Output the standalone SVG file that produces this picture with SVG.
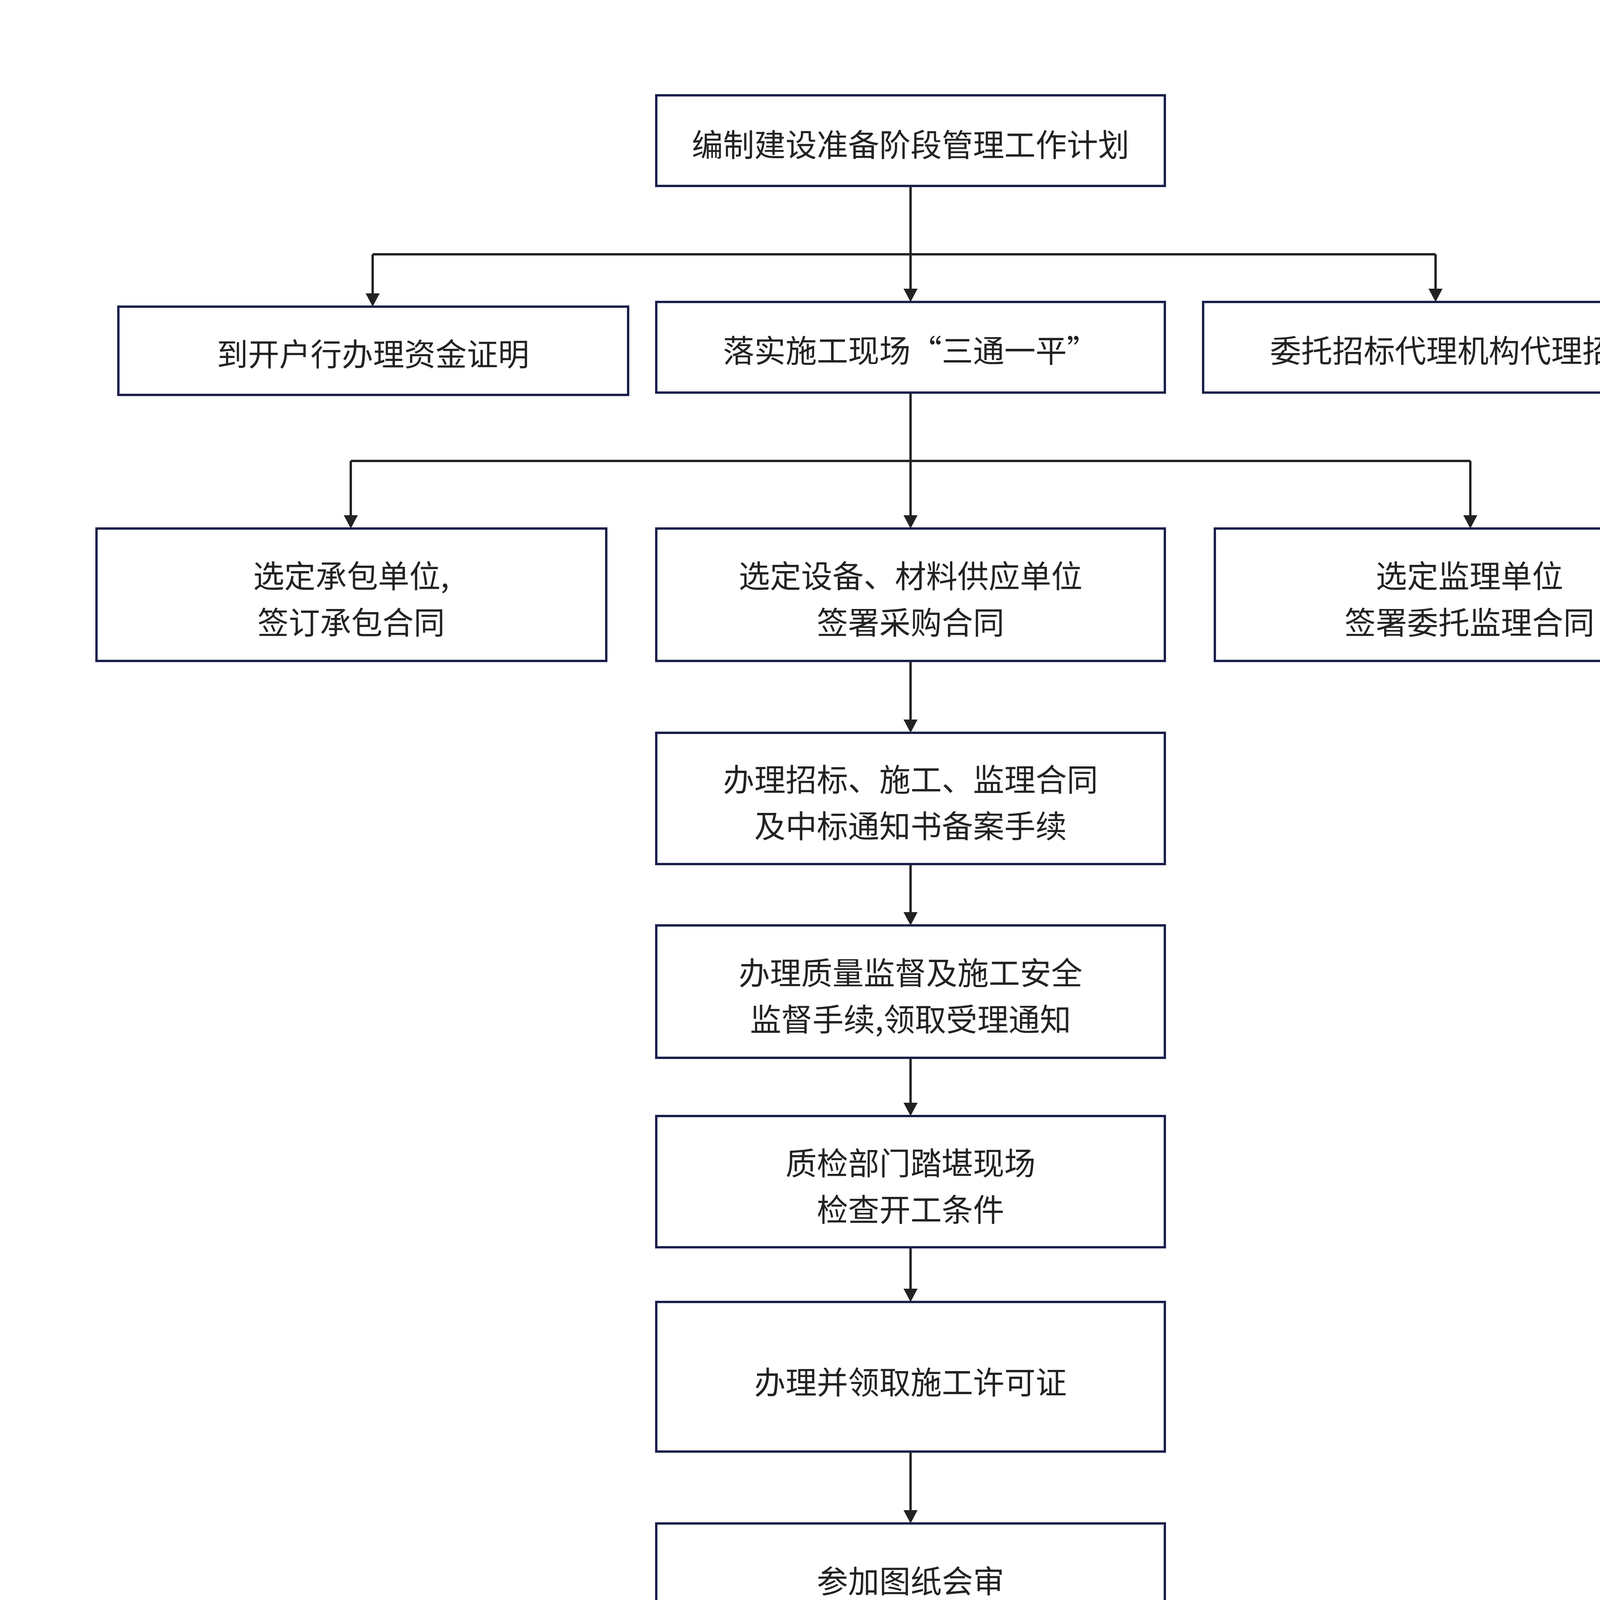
<svg xmlns="http://www.w3.org/2000/svg" width="4638" height="4513" viewBox="0 0 4638 4513">
<style>
rect.n{fill:#fff;stroke:#1b1f4b;stroke-width:6}
text{font-family:"Noto Sans CJK SC","Liberation Sans",sans-serif;font-size:80px;fill:#222;text-anchor:middle;dominant-baseline:central}
.c{fill:none;stroke:#222;stroke-width:6}
</style>
<rect width="4638" height="4513" fill="#fff"/>
<g id="connectors">
<path class="c" d="M2331,476V651"/>
<path class="c" d="M954,651H3675"/>
<path class="c" d="M954,651V760"/>
<path class="c" d="M2331,651V750"/>
<path class="c" d="M3675,651V750"/>
<path class="c" d="M2331,1005V1180"/>
<path class="c" d="M898,1180H3764"/>
<path class="c" d="M898,1180V1330"/>
<path class="c" d="M2331,1180V1330"/>
<path class="c" d="M3764,1180V1330"/>
<path class="c" d="M2331,1692V1850"/>
<path class="c" d="M2331,2212V2345"/>
<path class="c" d="M2331,2708V2830"/>
<path class="c" d="M2331,3193V3310"/>
<path class="c" d="M2331,3716V3875"/>
<g fill="#222">
<path d="M936,751L972,751L954,785z"/>
<path d="M2313,739L2349,739L2331,773z"/>
<path d="M3657,739L3693,739L3675,773z"/>
<path d="M880,1319L916,1319L898,1353z"/>
<path d="M2313,1319L2349,1319L2331,1353z"/>
<path d="M3746,1319L3782,1319L3764,1353z"/>
<path d="M2313,1842L2349,1842L2331,1876z"/>
<path d="M2313,2335L2349,2335L2331,2369z"/>
<path d="M2313,2823L2349,2823L2331,2857z"/>
<path d="M2313,3299L2349,3299L2331,3333z"/>
<path d="M2313,3866L2349,3866L2331,3900z"/>
</g>
</g>
<g id="n1"><rect class="n" x="1680" y="244" width="1302" height="232"/><text x="2331" y="365">编制建设准备阶段管理工作计划</text></g>
<g id="n2"><rect class="n" x="303" y="785" width="1305" height="226"/><text x="955" y="901">到开户行办理资金证明</text></g>
<g id="n3"><rect class="n" x="1680" y="773" width="1302" height="232"/><text x="2331" y="892">落实施工现场“三通一平”</text></g>
<g id="n4"><rect class="n" x="3080" y="773" width="1302" height="232"/><text x="3731" y="892">委托招标代理机构代理招标</text></g>
<g id="n5"><rect class="n" x="247" y="1353" width="1305" height="339"/><text x="899" y="1469">选定承包单位,</text><text x="899" y="1588">签订承包合同</text></g>
<g id="n6"><rect class="n" x="1680" y="1353" width="1302" height="339"/><text x="2331" y="1469">选定设备、材料供应单位</text><text x="2331" y="1588">签署采购合同</text></g>
<g id="n7"><rect class="n" x="3110" y="1353" width="1305" height="339"/><text x="3762" y="1469">选定监理单位</text><text x="3762" y="1588">签署委托监理合同</text></g>
<g id="n8"><rect class="n" x="1680" y="1876" width="1302" height="336"/><text x="2331" y="1990">办理招标、施工、监理合同</text><text x="2331" y="2109">及中标通知书备案手续</text></g>
<g id="n9"><rect class="n" x="1680" y="2369" width="1302" height="339"/><text x="2331" y="2485">办理质量监督及施工安全</text><text x="2331" y="2604">监督手续,领取受理通知</text></g>
<g id="n10"><rect class="n" x="1680" y="2857" width="1302" height="336"/><text x="2331" y="2972">质检部门踏堪现场</text><text x="2331" y="3091">检查开工条件</text></g>
<g id="n11"><rect class="n" x="1680" y="3333" width="1302" height="383"/><text x="2331" y="3533">办理并领取施工许可证</text></g>
<g id="n12"><rect class="n" x="1680" y="3900" width="1302" height="384"/><text x="2331" y="4042">参加图纸会审</text><text x="2331" y="4161">组织召开第一次工地会议</text></g>
</svg>
